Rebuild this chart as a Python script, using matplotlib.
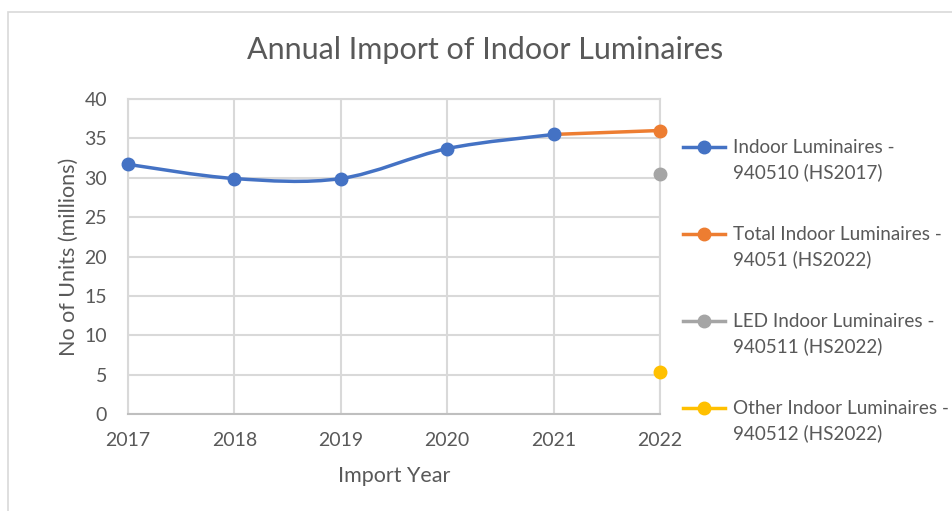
import numpy as np
import matplotlib.pyplot as plt
from matplotlib.path import Path
from matplotlib.patches import PathPatch, Rectangle
from matplotlib.lines import Line2D

plt.rcParams['font.family'] = ['Lato', 'DejaVu Sans']

# Data (millions of units)
years = [2017, 2018, 2019, 2020, 2021, 2022]
hs2017_years = [2017, 2018, 2019, 2020, 2021]
hs2017_vals = [31.7, 29.9, 29.9, 33.7, 35.5]
total_years = [2021, 2022]
total_vals = [35.5, 36.0]
led_years = [2022]
led_vals = [30.5]
other_years = [2022]
other_vals = [5.3]

labels = ["Indoor Luminaires -\n940510 (HS2017)",
          "Total Indoor Luminaires -\n94051 (HS2022)",
          "LED Indoor Luminaires -\n940511 (HS2022)",
          "Other Indoor Luminaires -\n940512 (HS2022)"]
colors = ["#4472C4", "#ED7D31", "#A5A5A5", "#FFC000"]
text_col = "#595959"


def smooth_path(xs, ys):
    # Excel-style smoothed line as cubic bezier segments
    x = np.array(xs, float)
    y = np.array(ys, float)
    n = len(x)
    verts = [(x[0], y[0])]
    codes = [Path.MOVETO]
    for i in range(n - 1):
        x0, y0 = (x[i - 1], y[i - 1]) if i > 0 else (x[i], y[i])
        x3, y3 = (x[i + 2], y[i + 2]) if i + 2 < n else (x[i + 1], y[i + 1])
        c1 = (x[i] + (x[i + 1] - x0) / 6, y[i] + (y[i + 1] - y0) / 6)
        c2 = (x[i + 1] - (x3 - x[i]) / 6, y[i + 1] - (y3 - y[i]) / 6)
        verts += [c1, c2, (x[i + 1], y[i + 1])]
        codes += [Path.CURVE4] * 3
    return Path(verts, codes)


W, H = 953, 511
fig = plt.figure(figsize=(W / 100, H / 100), dpi=100)
ax = fig.add_axes([128 / W, 1 - 414 / H, (660 - 128) / W, (414 - 99) / H])

# chart border
fig.patches.append(Rectangle((8 / W, -0.05), 1.0, 1 - 12 / H + 0.05,
                             transform=fig.transFigure, fill=False,
                             edgecolor="#D9D9D9", lw=1.2))

ax.add_patch(PathPatch(smooth_path(hs2017_years, hs2017_vals), fill=False,
                       edgecolor=colors[0], lw=2.5, zorder=3))
ax.plot(hs2017_years, hs2017_vals, "o", color=colors[0], ms=9, zorder=4)
ax.plot(total_years, total_vals, "-", color=colors[1], lw=2.5, zorder=3)
ax.plot(total_years[1:], total_vals[1:], "o", color=colors[1], ms=9, zorder=4)
ax.plot(led_years, led_vals, "o", color=colors[2], ms=9, zorder=4)
ax.plot(other_years, other_vals, "o", color=colors[3], ms=9, zorder=4)

ax.set_xlim(2017, 2022)
ax.set_ylim(0, 40)
ax.set_xticks(years)
ax.set_yticks(range(0, 41, 5))
ax.grid(True, color="#D9D9D9", lw=1.5)
ax.set_axisbelow(True)
for s in ax.spines.values():
    s.set_color("#D9D9D9")
    s.set_linewidth(1.5)
ax.spines["bottom"].set_color("#BFBFBF")
ax.tick_params(length=0, labelsize=14, colors=text_col)
ax.tick_params(axis="x", pad=13)
ax.tick_params(axis="y", pad=15)
for ln in ax.lines:
    ln.set_clip_on(False)

ax.set_xlabel("Import Year", fontsize=15.5, color=text_col, labelpad=12)
ax.set_ylabel("No of Units (millions)", fontsize=15.5, color=text_col, labelpad=4)
fig.text(485 / W, 1 - 50 / H, "Annual Import of Indoor Luminaires",
         ha="center", va="center", fontsize=22, color=text_col)

# legend (Excel puts the key level with the first line of each label)
for i, (c, lab) in enumerate(zip(colors, labels)):
    y = 1 - (147 + i * 87) / H
    fig.add_artist(Line2D([683 / W, 725 / W], [y, y], color=c, lw=2.5))
    fig.add_artist(Line2D([704 / W], [y], color=c, marker="o", ms=9))
    for j, part in enumerate(lab.split("\n")):
        fig.text(733 / W, y - j * 25 / H, part, ha="left", va="center",
                 fontsize=13.6, color=text_col)

fig.savefig("out.png", dpi=100)
